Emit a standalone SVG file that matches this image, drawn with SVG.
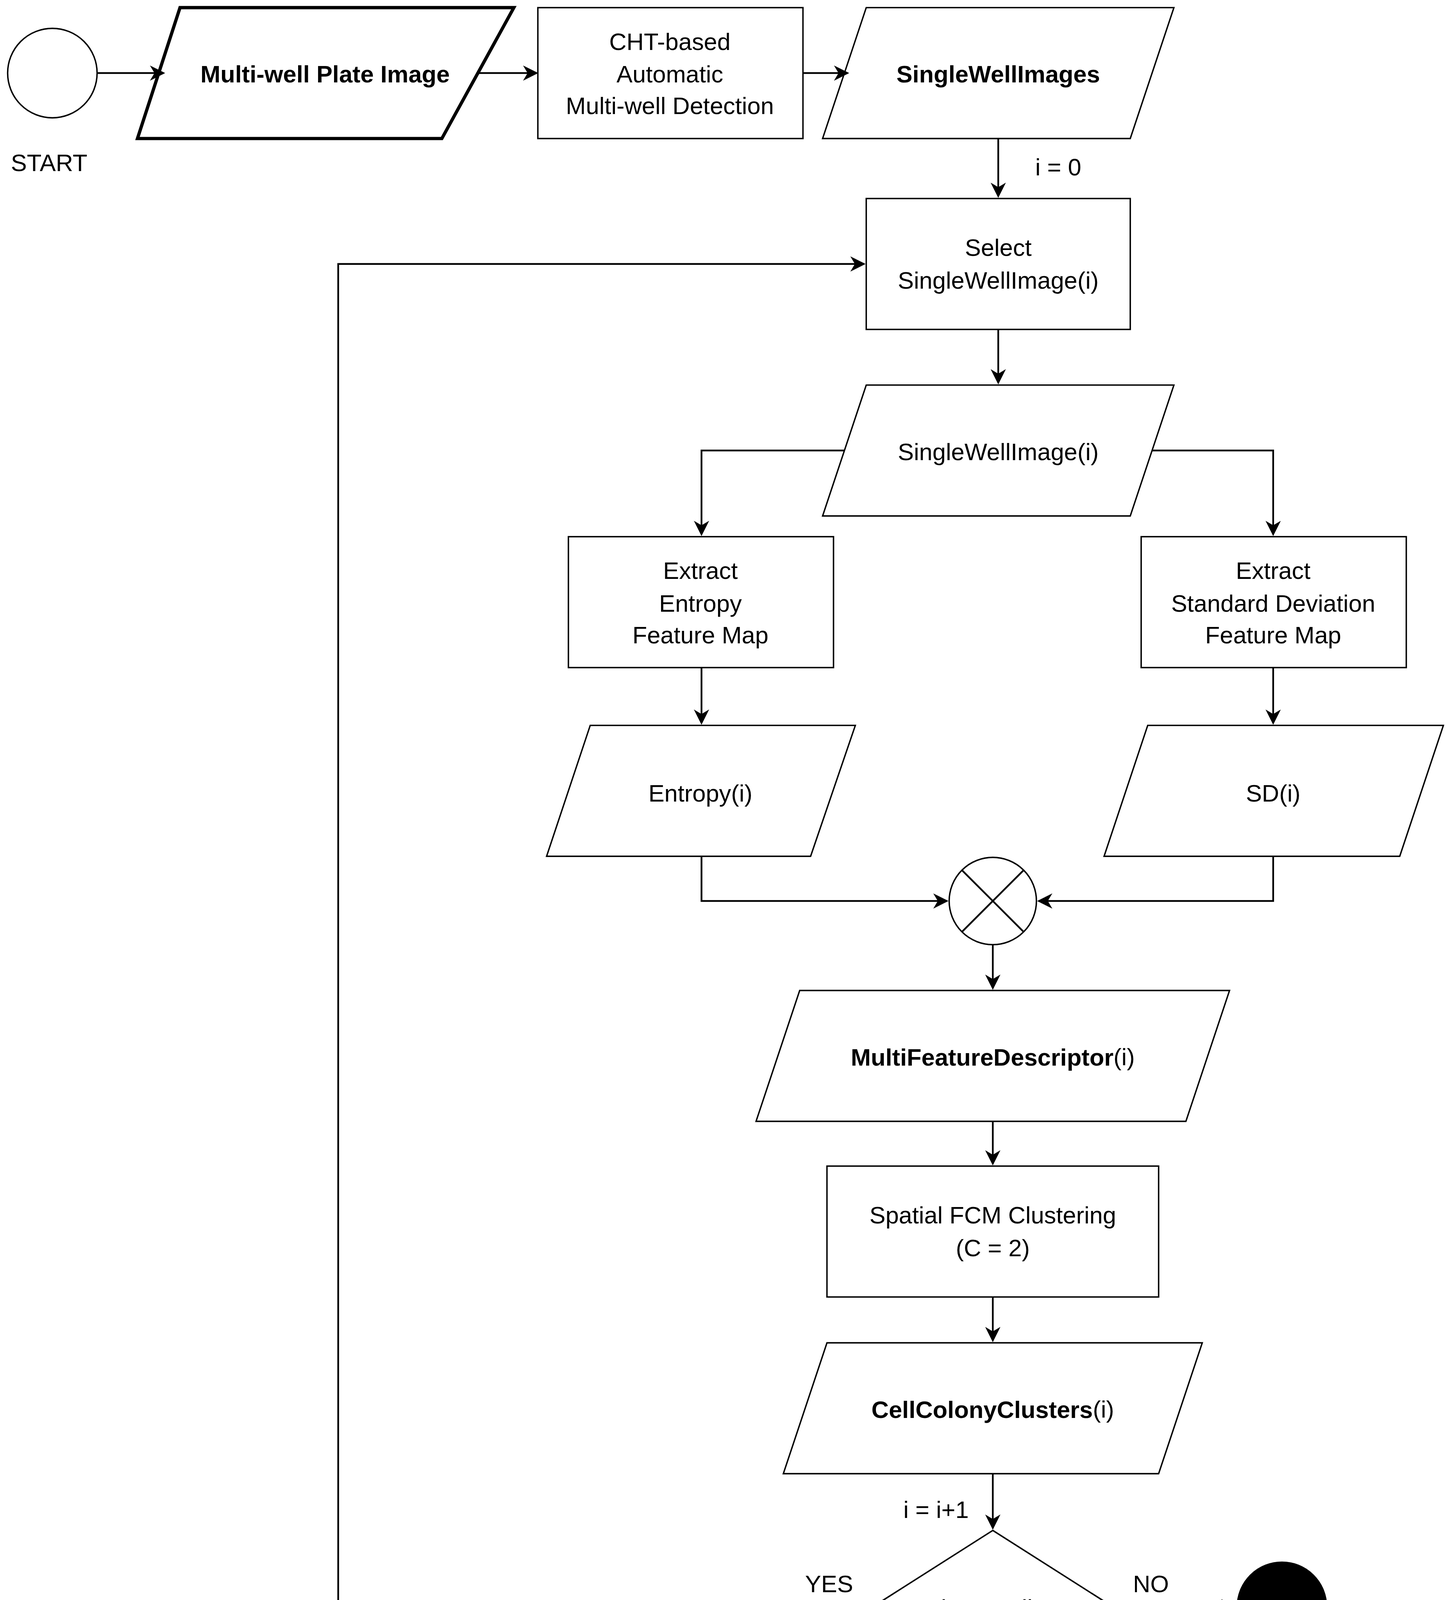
<svg xmlns="http://www.w3.org/2000/svg" width="3714" height="4373" viewBox="0 0 3714 4373">
<style>
.s{fill:#fff;stroke:#000;stroke-width:1.3}
.b{fill:#fff;stroke:#000;stroke-width:3}
.t{font-family:"Liberation Sans",Arial,sans-serif;font-size:22px;text-anchor:middle;dominant-baseline:central;fill:#000}
.bd{font-weight:bold}
.c{fill:none;stroke:#000;stroke-width:1.6}
</style>
<defs>
<marker id="a" viewBox="0 0 10 10" refX="9" refY="5" markerWidth="14" markerHeight="14" markerUnits="userSpaceOnUse" orient="auto">
<path d="M0,0 L10,5 L0,10 L3,5 Z" fill="#000"/>
</marker>
</defs>
<rect width="3714" height="4373" fill="#fff"/>
<g transform="scale(2.7925)">
<g id="start"><circle class="s" cx="48" cy="67" r="41"/><text class="t" x="45" y="149">START</text></g>
<g id="plate"><polygon class="b" points="165,7 471,7 405,127 126,127"/><text class="t bd" x="298" y="68">Multi-well Plate Image</text></g>
<g id="cht"><rect class="s" x="493" y="7" width="243" height="120"/>
<text class="t" x="614" y="38">CHT-based</text><text class="t" x="614" y="68">Automatic</text><text class="t" x="614" y="97">Multi-well Detection</text></g>
<g id="swis"><polygon class="s" points="794,7 1076,7 1036,127 754,127"/><text class="t bd" x="915" y="68">SingleWellImages</text></g>
<g id="select"><rect class="s" x="794" y="182" width="242" height="120"/>
<text class="t" x="915" y="227">Select</text><text class="t" x="915" y="257">SingleWellImage(i)</text></g>
<g id="swi"><polygon class="s" points="794,353 1076,353 1036,473 754,473"/><text class="t" x="915" y="414">SingleWellImage(i)</text></g>
<g id="ext-ent"><rect class="s" x="521" y="492" width="243" height="120"/>
<text class="t" x="642" y="523">Extract</text><text class="t" x="642" y="553">Entropy</text><text class="t" x="642" y="582">Feature Map</text></g>
<g id="ext-sd"><rect class="s" x="1046" y="492" width="243" height="120"/>
<text class="t" x="1167" y="523">Extract</text><text class="t" x="1167" y="553">Standard Deviation</text><text class="t" x="1167" y="582">Feature Map</text></g>
<g id="entropy"><polygon class="s" points="541,665 784,665 743,785 501,785"/><text class="t" x="642" y="727">Entropy(i)</text></g>
<g id="sd"><polygon class="s" points="1052,665 1323,665 1283,785 1012,785"/><text class="t" x="1167" y="727">SD(i)</text></g>
<g id="combine"><circle class="s" cx="910" cy="826" r="40"/>
<path class="c" d="M881.7,797.7 L938.3,854.3 M938.3,797.7 L881.7,854.3" stroke-width="1.3"/></g>
<g id="mfd"><polygon class="s" points="733,908 1127,908 1087,1028 693,1028"/>
<text class="t" x="910" y="969"><tspan class="bd">MultiFeatureDescriptor</tspan>(i)</text></g>
<g id="fcm"><rect class="s" x="758" y="1069" width="304" height="120"/>
<text class="t" x="910" y="1114">Spatial FCM Clustering</text><text class="t" x="910" y="1144">(C = 2)</text></g>
<g id="ccc"><polygon class="s" points="758,1231 1102,1231 1062,1351 718,1351"/>
<text class="t" x="910" y="1292"><tspan class="bd">CellColonyClusters</tspan>(i)</text></g>
<g id="decision"><polygon class="s" points="910,1403 1020,1473 910,1543 800,1473"/><text class="t" x="910" y="1474">i ≤ #Wells</text></g>
<g id="stop"><circle cx="1175" cy="1473" r="41" fill="#000" stroke="#000"/><text class="t" x="1175" y="1553">STOP</text></g>
<g id="connectors">
<path class="c" d="M89,67 H150" marker-end="url(#a)"/>
<path class="c" d="M438,67 H492" marker-end="url(#a)"/>
<path class="c" d="M736,67 H777" marker-end="url(#a)"/>
<path class="c" d="M915,127 V180" marker-end="url(#a)"/>
<path class="c" d="M915,302 V351" marker-end="url(#a)"/>
<path class="c" d="M774,413 H643 V490" marker-end="url(#a)"/>
<path class="c" d="M1056,413 H1167 V490" marker-end="url(#a)"/>
<path class="c" d="M643,612 V663" marker-end="url(#a)"/>
<path class="c" d="M1167,612 V663" marker-end="url(#a)"/>
<path class="c" d="M643,785 V826 H868" marker-end="url(#a)"/>
<path class="c" d="M1167,785 V826 H952" marker-end="url(#a)"/>
<path class="c" d="M910,866 V906" marker-end="url(#a)"/>
<path class="c" d="M910,1028 V1067" marker-end="url(#a)"/>
<path class="c" d="M910,1189 V1229" marker-end="url(#a)"/>
<path class="c" d="M910,1351 V1401" marker-end="url(#a)"/>
<path class="c" d="M800,1473 H310 V242 H792" marker-end="url(#a)"/>
<path class="c" d="M1020,1473 H1132" marker-end="url(#a)"/>
<text class="t" x="970" y="153">i = 0</text>
<text class="t" x="858" y="1384">i = i+1</text>
<text class="t" x="760" y="1452">YES</text>
<text class="t" x="1055" y="1452">NO</text>
</g>
</g>
</svg>
